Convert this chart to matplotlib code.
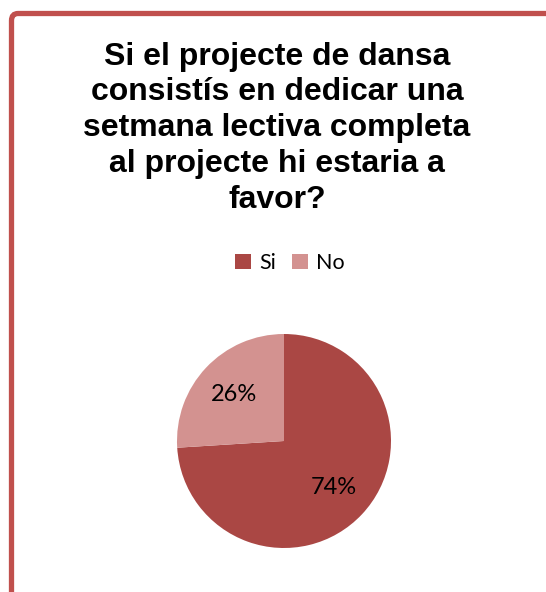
import matplotlib
matplotlib.use("Agg")
import matplotlib.pyplot as plt
from matplotlib.patches import FancyBboxPatch

# Survey answers
categories = ["Si", "No"]
shares = [74, 26]
colors = ["#AA4744", "#D39290"]
title = ("Si el projecte de dansa\nconsistís en dedicar una\n"
         "setmana lectiva completa\nal projecte hi estaria a\nfavor?")

W, H = 546, 592
fig = plt.figure(figsize=(W / 100, H / 100), dpi=100)

# Rounded red frame around the chart area (runs off the right and bottom edges)
frame = FancyBboxPatch((11.5 / W, -0.05), 1.1, 1 - 13.5 / H + 0.05,
                       boxstyle="round,pad=0,rounding_size=0.012",
                       transform=fig.transFigure, fill=False,
                       edgecolor="#C0504D", linewidth=3.8, zorder=10)
fig.patches.append(frame)

fig.text(277 / W, 1 - 128 / H, title, ha="center", va="center",
         fontsize=23, fontweight="bold", family="Liberation Sans",
         linespacing=1.25)

# Pie axes: centre (284, 441) px, radius 107 px
cx, cy, r = 284, 441, 107
ax = fig.add_axes([(cx - r) / W, (H - cy - r) / H, 2 * r / W, 2 * r / H])
wedges, texts, autotexts = ax.pie(
    shares, colors=colors, startangle=90, counterclock=False,
    autopct="%d%%", pctdistance=0.64,
    wedgeprops=dict(linewidth=0),
    textprops=dict(fontsize=17, family="Lato", color="black"))
ax.set_xlim(-1, 1)
ax.set_ylim(-1, 1)

fig.legend(wedges, categories, loc="center", ncol=2, frameon=False,
           bbox_to_anchor=(290 / W, 1 - 263 / H),
           prop=dict(family="Lato", size=15.5),
           handlelength=0.75, handleheight=0.75, handletextpad=0.4,
           columnspacing=0.7)

fig.savefig("out.png", dpi=100)
